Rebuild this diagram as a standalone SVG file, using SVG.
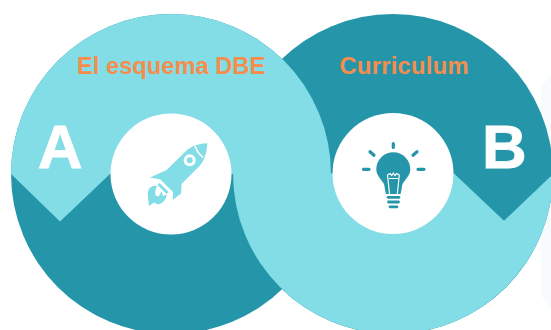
<svg xmlns="http://www.w3.org/2000/svg" width="551" height="330" viewBox="0 0 551 330">
<style>
.dark{fill:#2596A9}.light{fill:#82DDE6}.white{fill:#fff}
.title{font:bold 23.700px "Liberation Sans",Arial,sans-serif;fill:#F58D4D}
.letter{font:bold 62px "Liberation Sans",Arial,sans-serif;fill:#fff;stroke:#fff;stroke-width:.8}
.ic{stroke:#2596A9;stroke-width:3.200;stroke-linecap:round;fill:none}
</style>
<rect width="551" height="330" fill="#fff"/>
<path d="M551 74L541 88V295L551 310Z" fill="#F7FBFB"/>
<g id="node-a-base"><circle class="dark" cx="171" cy="174" r="160"/></g>
<g id="node-b-base"><circle class="dark" cx="393" cy="174" r="160"/></g>
<g id="node-a-top"><path class="light" d="M11 174A160 160 0 0 1 331 174H110L60 221.500Z"/></g>
<g id="node-b-bottom"><path class="light" d="M233 173.500H454L504 220.700L553 174A160 160 0 0 1 233 173.500Z"/></g>
<g id="node-a">
<circle class="white" cx="171" cy="174" r="60.500"/>
<path class="light" d="M207.300 143.300C200 143.500 191 146 186 151L166.700 170L150 177.500L160.500 179.500L173 192L172.700 200L181 193.500L181.500 184L200 165.500C204.500 160 207 152 207.300 143.300Z"/>
<path d="M195 145.700Q197 152.500 203 157.300" fill="none" stroke="#fff" stroke-width="1.500"/>
<circle class="white" cx="189.700" cy="160.300" r="6"/><circle class="light" cx="189.700" cy="160.300" r="3"/>
<path class="light" d="M159.500 183L168.500 192L166.500 194L157.500 185Z"/>
<path class="light" d="M157 186C152 184.500 148.500 188 148 192C147.500 196 148.500 202 149 206L154 202.500L158 204.500C162.500 204 166.500 199 166.700 194.500L163 196L161.500 191.500L158.500 196.500L155.500 195.500C155 192 155.500 189 157 186Z"/>
<text class="title" x="77" y="74">El esquema DBE</text>
<text class="letter" x="37.800" y="168">A</text>
</g>
<g id="node-b">
<circle class="white" cx="393" cy="173.500" r="60.500"/>
<path class="ic" d="M393.300 143.500V147.500M370 151.700L374 155.300M417 151.700L413 155.300M363.500 169.300H369M418 169.300H424"/>
<path class="dark" d="M393.300 152.300A17 17 0 0 0 376.300 169.300C376.300 175.500 381 179 384 184C385 188 385 191 386 194H400.500C401.500 191 401.500 188 402.500 184C405.500 179 410.300 175.500 410.300 169.300A17 17 0 0 0 393.300 152.300Z"/>
<path d="M389.500 194L387.500 175L390 173.500L391.800 175.500L393.300 173L395 175.500L396.800 173.500L399.300 175L397.300 194M389 178.500H398" fill="none" stroke="#fff" stroke-width="1.200"/>
<path class="ic" d="M388 197.300H399M388.500 202H398.500M390 206.800H397" style="stroke-width:2.800"/>
<text class="title" x="339.500" y="74" letter-spacing=".3">Curriculum</text>
<text class="letter" x="482" y="168">B</text>
</g>
<g id="connectors"></g>
</svg>
